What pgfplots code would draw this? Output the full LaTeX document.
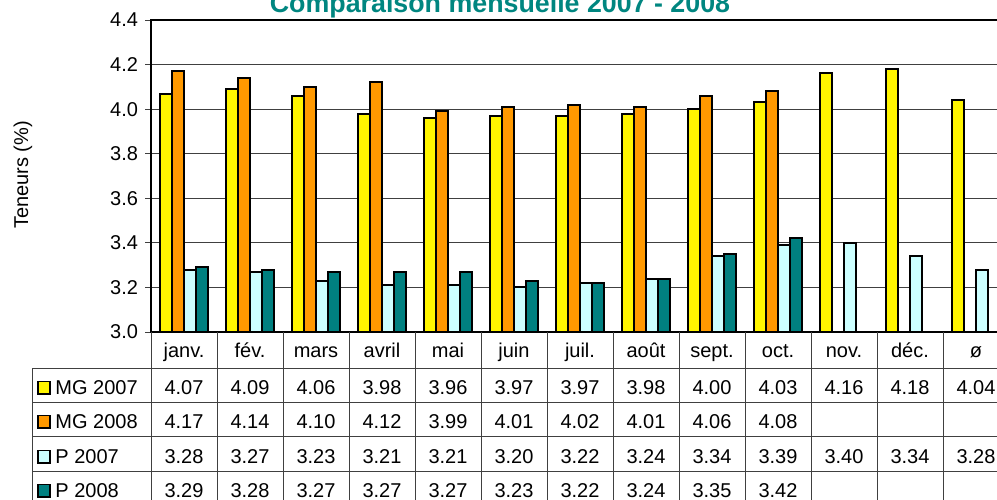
\documentclass[border=0pt]{standalone}
\usepackage{pgfplots}
\pgfplotsset{compat=1.18}
\usepackage{pgfplotstable}
\usepackage{fontspec}
\setmainfont{Liberation Sans}
\definecolor{cMGa}{HTML}{FFF500}
\definecolor{cMGb}{HTML}{FF9900}
\definecolor{cPa}{HTML}{CCFFFF}
\definecolor{cPb}{HTML}{008080}
\definecolor{ctitle}{HTML}{008680}
\definecolor{cgrid}{HTML}{404040}

\pgfplotstableread{
x mg07 mg08 p07 p08
0 4.07 4.17 3.28 3.29
1 4.09 4.14 3.27 3.28
2 4.06 4.10 3.23 3.27
3 3.98 4.12 3.21 3.27
4 3.96 3.99 3.21 3.27
5 3.97 4.01 3.20 3.23
6 3.97 4.02 3.22 3.22
7 3.98 4.01 3.24 3.24
8 4.00 4.06 3.34 3.35
9 4.03 4.08 3.39 3.42
10 4.16 nan 3.40 nan
11 4.18 nan 3.34 nan
12 4.04 nan 3.28 nan
}\datatab

\begin{document}
\begin{tikzpicture}
\path[use as bounding box, clip] (0pt,0pt) rectangle (498.5pt,-249.5pt);
\begin{axis}[
  at={(75.5pt,-166pt)}, anchor=south west,
  width=429pt, height=156pt, scale only axis,
  xmin=-0.5, xmax=12.5, ymin=3.0, ymax=4.4,
  xtick={0,...,12}, xticklabels=\empty,
  major x tick style={draw=none},
  ytick={3.0,3.2,3.4,3.6,3.8,4.0,4.2,4.4},
  yticklabel style={/pgf/number format/.cd, fixed, fixed zerofill, precision=1, assume math mode=true},
  tick label style={font=\fontsize{10}{12}\selectfont, text=black},
  ytick align=outside, major tick length=3pt,
  ytick style={cgrid, line width=0.5pt},
  ymajorgrids, grid style={cgrid, line width=0.6pt},
  axis line style={black, line width=0.6pt},
  ybar=0pt, bar width=6pt,
  every axis plot/.append style={draw=black, line width=1pt},
]
\addplot[fill=cMGa] table[x=x, y=mg07] {\datatab};
\addplot[fill=cMGb] table[x=x, y=mg08] {\datatab};
\addplot[fill=cPa] table[x=x, y=p07] {\datatab};
\addplot[fill=cPb] table[x=x, y=p08] {\datatab};
\end{axis}

% title
\node[anchor=base, text=ctitle, font=\fontsize{13.4}{15}\selectfont\bfseries] at (250pt,-6pt) {Comparaison mensuelle 2007 - 2008};
% y label
\node[rotate=90, font=\fontsize{10}{12}\selectfont] at (11.5pt,-87.5pt) {Teneurs (\%)};

% table grid
\begin{scope}[cgrid, line width=0.5pt]
\foreach \k in {0,...,13} \draw (75.5pt+33pt*\k,-166pt) -- (75.5pt+33pt*\k,-255pt);
\draw (16pt,-184pt) -- (16pt,-255pt);
\foreach \yy in {184,201,218,235.5} \draw (16pt,-\yy pt) -- (505pt,-\yy pt);
\end{scope}

% table text
\begin{scope}[font=\fontsize{10}{12}\selectfont]
\foreach \m [count=\i from 0] in {janv.,fév.,mars,avril,mai,juin,juil.,août,sept.,oct.,nov.,déc.,ø}
  \node[anchor=base, inner sep=0pt] at (92pt+33pt*\i,-178.7pt) {\m};
\foreach \v [count=\i from 0] in {4.07,4.09,4.06,3.98,3.96,3.97,3.97,3.98,4.00,4.03,4.16,4.18,4.04}
  \node[anchor=base, inner sep=0pt] at (92pt+33pt*\i,-197pt) {\v};
\foreach \v [count=\i from 0] in {4.17,4.14,4.10,4.12,3.99,4.01,4.02,4.01,4.06,4.08}
  \node[anchor=base, inner sep=0pt] at (92pt+33pt*\i,-214pt) {\v};
\foreach \v [count=\i from 0] in {3.28,3.27,3.23,3.21,3.21,3.20,3.22,3.24,3.34,3.39,3.40,3.34,3.28}
  \node[anchor=base, inner sep=0pt] at (92pt+33pt*\i,-231.5pt) {\v};
\foreach \v [count=\i from 0] in {3.29,3.28,3.27,3.27,3.27,3.23,3.22,3.24,3.35,3.42}
  \node[anchor=base, inner sep=0pt] at (92pt+33pt*\i,-248.5pt) {\v};
% legend keys
\foreach \c/\t/\yy in {cMGa/MG 2007/197, cMGb/MG 2008/214, cPa/P 2007/231.5, cPb/P 2008/248.5}{
  \draw[black, line width=0.9pt, fill=\c] (18.8pt,-\yy pt) rectangle ++(6.3pt,6.3pt);
  \node[anchor=base west, inner sep=0pt] at (27.5pt,-\yy pt) {\t};
}
\end{scope}
\end{tikzpicture}
\end{document}
